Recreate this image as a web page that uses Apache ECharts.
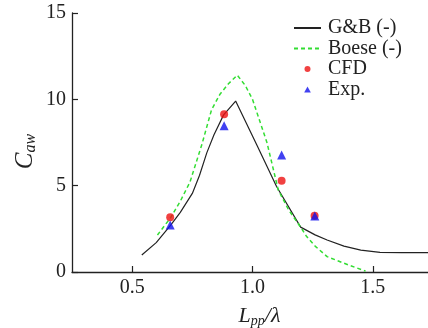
<!DOCTYPE html>
<html><head><meta charset="utf-8">
<script src="https://cdn.jsdelivr.net/npm/echarts@6/dist/echarts.min.js"></script>
<style>html,body{margin:0;padding:0;background:#fff}#c{width:428px;height:328px}</style>
</head><body><div id="c"></div>
<script>
const gbData = [[0.54,0.98],[0.60,1.7],[0.66,2.72],[0.70,3.45],[0.75,4.55],[0.78,5.6],[0.81,6.9],[0.84,7.95],[0.88,9.1],[0.93,9.9],[1.02,7.3],[1.10,4.95],[1.20,2.6],[1.26,2.15],[1.31,1.85],[1.38,1.5],[1.45,1.27],[1.53,1.14],[1.62,1.12],[1.75,1.12]];
const boeseData = [[0.605,2.14],[0.66,3.15],[0.70,4.1],[0.74,5.2],[0.79,7.4],[0.83,9.4],[0.865,10.3],[0.90,10.9],[0.937,11.4],[0.97,10.8],[1.00,10.0],[1.06,7.5],[1.107,4.75],[1.15,3.6],[1.20,2.6],[1.225,2.05],[1.26,1.5],[1.31,0.89],[1.40,0.4],[1.47,0.05]];
const cfdData = [[0.658,3.17],[0.882,9.13],[1.121,5.29],[1.258,3.26]];
const expData = [[0.658,2.72],[0.882,8.47],[1.121,6.77],[1.259,3.24]];
const xTicks = [0.5,1.0,1.5];
const yTicks = [0,5,10,15];

const font = 'Liberation Serif';
const chart = echarts.init(document.getElementById('c'));
chart.setOption({
  animation:false,
  backgroundColor:'#fff',
  textStyle:{fontFamily:font},
  grid:{left:72,top:13,right:-5,bottom:56,containLabel:false,outerBoundsMode:'none'},
  legend:{
    orient:'vertical', left:293, top:18, padding:0,
    itemWidth:27, itemHeight:6, itemGap:0.5,
    symbolKeepAspect:true,
    textStyle:{fontFamily:font,fontSize:20,lineHeight:20,color:'#222',padding:[0,0,0,2]},
    data:[
      {name:'G&B (-)'},
      {name:'Boese (-)'},
      {name:'CFD',icon:'path://M0,5A5,5,0,1,1,10,5A5,5,0,1,1,0,5Z'},
      {name:'Exp.',icon:'path://M0,9L5,0L10,9Z'}
    ]
  },
  xAxis:{
    type:'value', min:0.25, max:1.75,
    name:'{i|L}{s|pp}{i|/λ}', nameLocation:'middle', nameGap:32,
    nameTextStyle:{padding:[0,0,0,14],rich:{i:{fontFamily:font,fontStyle:'italic',fontSize:22,color:'#222'},s:{fontFamily:font,fontStyle:'italic',fontSize:14,color:'#222',padding:[10,0,0,0]}}},
    axisLine:{lineStyle:{color:'#222',width:1.3}},
    axisTick:{inside:true,length:6,customValues:xTicks,lineStyle:{color:'#222',width:1.2}},
    axisLabel:{customValues:xTicks,fontFamily:font,fontSize:20,color:'#222',margin:6,formatter:v=>v.toFixed(1)},
    splitLine:{show:false}
  },
  yAxis:{
    type:'value', min:0, max:15,
    name:'{i|C}{s|aw}', nameLocation:'middle', nameGap:33, nameRotate:90, nameMoveOverlap:false,
    nameTextStyle:{padding:[0,18,0,0],rich:{i:{fontFamily:font,fontStyle:'italic',fontSize:25,color:'#222'},s:{fontFamily:font,fontStyle:'italic',fontSize:16,color:'#222',padding:[12,0,0,0]}}},
    axisLine:{show:true,lineStyle:{color:'#222',width:1.3}},
    axisTick:{show:true,inside:true,length:6,customValues:yTicks,lineStyle:{color:'#222',width:1.2}},
    axisLabel:{customValues:yTicks,fontFamily:font,fontSize:20,color:'#222',margin:6},
    splitLine:{show:false}
  },
  series:[
    {name:'G&B (-)',type:'line',data:gbData,showSymbol:false,lineStyle:{color:'#222',width:1.2},itemStyle:{color:'#222',opacity:0},z:2},
    {name:'Boese (-)',type:'line',data:boeseData,showSymbol:false,lineStyle:{color:'#33dd33',width:1.5,type:[4,3]},itemStyle:{color:'#33dd33',opacity:0},z:2},
    {name:'CFD',type:'scatter',data:cfdData,symbol:'circle',symbolSize:8,itemStyle:{color:'#ee1111'},z:3},
    {name:'Exp.',type:'scatter',data:expData,symbol:'triangle',symbolSize:9,itemStyle:{color:'#1111ee'},z:4}
  ]
});
</script></body></html>
